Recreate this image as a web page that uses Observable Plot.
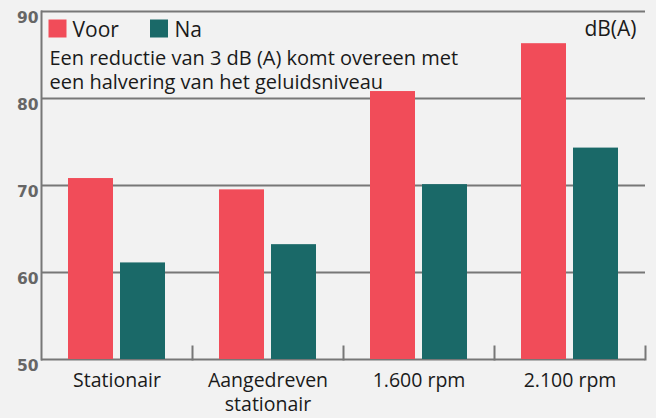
<!DOCTYPE html>
<html>
<head>
<meta charset="utf-8">
<script src="https://cdn.jsdelivr.net/npm/d3@7"></script>
<script src="https://cdn.jsdelivr.net/npm/@observablehq/plot@0.6"></script>
<style>
  html, body { margin: 0; padding: 0; background: #f2f2f2; }
  #chart svg { display: block; background: #f2f2f2; }
</style>
</head>
<body>
<div id="chart"></div>
<script>
const groups = ["Stationair", "Aangedreven\nstationair", "1.600 rpm", "2.100 rpm"];
const series = ["Voor", "Na"];
const voor = [70.8, 69.5, 80.8, 86.3];
const na = [61.1, 63.2, 70.1, 74.3];
const yTicks = [50, 60, 70, 80, 90];
const gridValues = [50, 60, 70, 80, 90];
const unitLabel = "dB(A)";
const note = "Een reductie van 3 dB (A) komt overeen met\neen halvering van het geluidsniveau";
const colors = ["#f14c59", "#1a6968"];

const data = groups.flatMap((g, i) => [
  {group: g, series: "Voor", value: voor[i]},
  {group: g, series: "Na", value: na[i]}
]);

const font = "'Open Sans', Roboto, sans-serif";
const grid = "#777777";

const chart = Plot.plot({
  width: 656,
  height: 418,
  marginTop: 11,
  marginRight: 10,
  marginBottom: 59,
  marginLeft: 39,
  style: {background: "#f2f2f2", fontFamily: font, color: "#1a1a1a"},
  fx: {domain: groups, padding: 0, label: null, axis: null},
  x: {domain: series, paddingInner: 0.13, paddingOuter: 0.5, axis: null},
  y: {domain: [50, 90], label: null, axis: null},
  color: {domain: series, range: colors},
  marks: [
    Plot.ruleY(gridValues, {stroke: grid, strokeWidth: 2}),
    Plot.frame({anchor: "left", facetAnchor: "left", stroke: grid, strokeWidth: 2}),
    Plot.frame({anchor: "right", insetTop: 335, stroke: grid, strokeWidth: 2}),
    Plot.barY(data, {fx: "group", x: "series", y: "value", fill: "series", clip: true}),
    Plot.axisY({ticks: yTicks, tickSize: 0, tickPadding: 3, fontWeight: "bold", fontSize: 15.5,
      fontFamily: "DejaVu Sans", fill: "#666", dy: 7, label: null}),
    Plot.axisFx({anchor: "bottom", tickSize: 0, tickPadding: 11, fontSize: 19.5, lineAnchor: "top",
      lineHeight: 1.2, fill: "#1a1a1a", label: null}),
    // legend
    Plot.dot([series[0]], {fx: [groups[0]], frameAnchor: "top-left", dx: 16, dy: 17, symbol: "square", r: 10.16, fill: d => d, stroke: null}),
    Plot.text([series[0]], {fx: [groups[0]], frameAnchor: "top-left", dx: 31, dy: 11, lineAnchor: "top", textAnchor: "start", fontSize: 21, fill: "#1a1a1a"}),
    Plot.dot([series[1]], {fx: [groups[0]], frameAnchor: "top-left", dx: 117.5, dy: 17, symbol: "square", r: 10.16, fill: d => d, stroke: null}),
    Plot.text([series[1]], {fx: [groups[0]], frameAnchor: "top-left", dx: 133, dy: 11, lineAnchor: "top", textAnchor: "start", fontSize: 21, fill: "#1a1a1a"}),
    Plot.text([note], {fx: [groups[0]], frameAnchor: "top-left", dx: 8, dy: 37, lineAnchor: "top", textAnchor: "start", fontSize: 20, lineHeight: 1.17, fill: "#1a1a1a"}),
    Plot.text([unitLabel], {fx: [groups[3]], frameAnchor: "top-right", dx: -9, dy: 10, lineAnchor: "top", textAnchor: "end", fontSize: 21, fill: "#1a1a1a"})
  ]
});
document.getElementById("chart").appendChild(chart);
</script>
</body>
</html>
